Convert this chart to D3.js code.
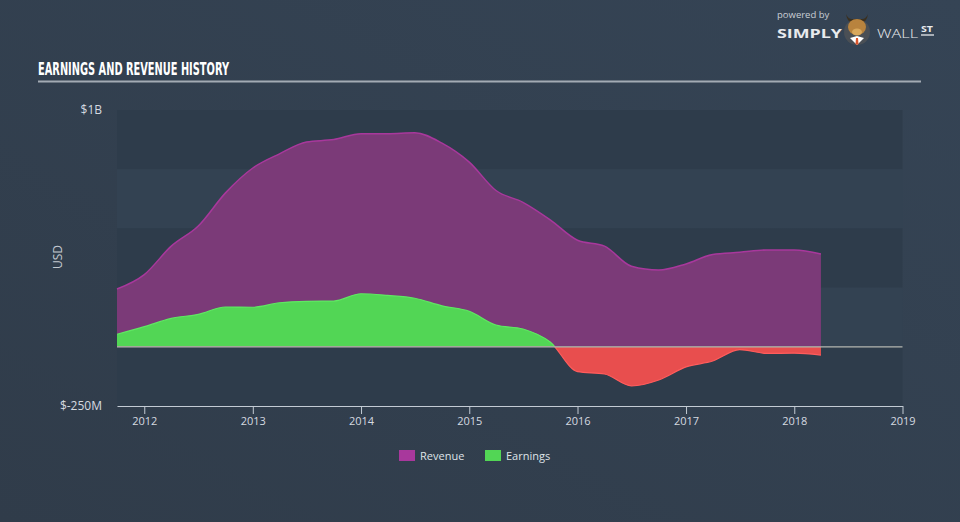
<!DOCTYPE html>
<html><head><meta charset="utf-8">
<script src="https://cdn.jsdelivr.net/npm/d3@7"></script>
<style>
html,body{margin:0;padding:0;background:#323f4e;}
svg{display:block;}
</style></head>
<body>
<svg id="chart" width="960" height="522"></svg>
<script>
// ---- data ----
const quarters = ["2011-10-01","2012-01-01","2012-04-01","2012-07-01","2012-10-01",
  "2013-01-01","2013-04-01","2013-07-01","2013-10-01","2014-01-01","2014-04-01","2014-07-01","2014-10-01",
  "2015-01-01","2015-04-01","2015-07-01","2015-10-01","2016-01-01","2016-04-01","2016-07-01","2016-10-01",
  "2017-01-01","2017-04-01","2017-07-01","2017-10-01","2018-01-01","2018-04-01"];
const revenue = [0.244,0.305,0.425,0.51,0.65,0.755,0.815,0.865,0.875,0.9,0.9,0.904,0.86,
  0.78,0.66,0.61,0.536,0.45,0.425,0.34,0.324,0.35,0.39,0.399,0.409,0.409,0.392];
const earnings = [0.053,0.085,0.12,0.137,0.168,0.167,0.186,0.192,0.193,0.224,0.217,0.205,0.173,
  0.15,0.092,0.075,0.02,-0.105,-0.115,-0.165,-0.14,-0.085,-0.06,-0.012,-0.028,-0.027,-0.035];
const yTickValues = [1, -0.25];
const yTickLabels = ["$1B", "$-250M"];
const bandEdges = [1, 0.75, 0.5, 0.25, 0, -0.25];
const seriesNames = ["Revenue", "Earnings"];
const seriesColors = ["#a8389c", "#52d655"];

// ---- layout ----
const svg = d3.select("#chart");
const X0 = 117, X1 = 902.5, Y0 = 110, Y1 = 406;
const parse = d3.timeParse("%Y-%m-%d");
const dates = quarters.map(parse);
const x = d3.scaleTime().domain([parse("2011-10-01"), parse("2019-01-01")]).range([X0, X1]);
const y = d3.scaleLinear().domain([-0.25, 1]).range([Y1, Y0]);

// background subtle gradient
const defs = svg.append("defs");
const bg = defs.append("linearGradient").attr("id","bg").attr("x1","0").attr("y1","1").attr("x2","1").attr("y2","0");
bg.append("stop").attr("offset","0").attr("stop-color","#303c4a");
bg.append("stop").attr("offset","1").attr("stop-color","#354455");
svg.append("rect").attr("width",960).attr("height",522).attr("fill","url(#bg)");

// title
svg.append("text").attr("x",38).attr("y",75)
  .attr("font-family","'Liberation Sans Narrow','DejaVu Sans Condensed',sans-serif")
  .attr("font-weight","bold").attr("font-size",17).attr("fill","#ffffff")
  .attr("textLength",191).attr("lengthAdjust","spacingAndGlyphs")
  .text("EARNINGS AND REVENUE HISTORY");
svg.append("line").attr("x1",38).attr("x2",921).attr("y1",81.5).attr("y2",81.5)
  .attr("stroke","#a3abb4").attr("stroke-width",2);

// logo
const logo = svg.append("g").attr("font-family","'Open Sans',sans-serif").attr("fill","#e8eaed");
logo.append("text").attr("x",777).attr("y",18).attr("font-size",9.5).attr("fill","#c9ced4").text("powered by");
logo.append("text").attr("x",777).attr("y",37.5).attr("font-size",13).attr("font-weight","bold")
  .attr("textLength",65).attr("lengthAdjust","spacingAndGlyphs").text("SIMPLY");
logo.append("circle").attr("cx",857).attr("cy",32).attr("r",13).attr("fill","#4a4f55");
logo.append("path").attr("d","M846,14 Q847,20 850,22 L864,22 Q867,20 868,14 Q866,19 862,19 L852,19 Q848,19 846,14Z").attr("fill","#3a3020");
logo.append("ellipse").attr("cx",857).attr("cy",27).attr("rx",9).attr("ry",8).attr("fill","#b8833e");
logo.append("ellipse").attr("cx",857).attr("cy",32).attr("rx",5).attr("ry",3.5).attr("fill","#d9a85c");
logo.append("path").attr("d","M850,38 L857,45 L864,38 L857,36Z").attr("fill","#ffffff");
logo.append("path").attr("d","M856,38 L858,38 L858.5,44 L857,45 L855.5,44Z").attr("fill","#d9542b");
logo.append("text").attr("x",877).attr("y",37.5).attr("font-size",13).attr("font-weight",300)
  .attr("textLength",41).attr("lengthAdjust","spacingAndGlyphs").text("WALL");
logo.append("text").attr("x",921).attr("y",32).attr("font-size",9).attr("font-weight","bold")
  .attr("textLength",12).attr("lengthAdjust","spacingAndGlyphs").text("ST");
logo.append("line").attr("x1",921).attr("x2",934).attr("y1",35).attr("y2",35).attr("stroke","#e8eaed").attr("stroke-width",1.3);

// bands
const bands = d3.pairs(bandEdges);
svg.append("g").selectAll("rect").data(bands).join("rect")
  .attr("x",X0).attr("width",X1 - X0)
  .attr("y",d => y(d[0])).attr("height",d => y(d[1]) - y(d[0]))
  .attr("fill",(d,i) => i % 2 === 0 ? "#2e3c4b" : "#334252");

// revenue area
const rows = dates.map((d,i) => ({date:d, rev:revenue[i], earn:earnings[i]}));
const curve = d3.curveMonotoneX;
svg.append("path").datum(rows)
  .attr("d", d3.area().curve(curve).x(d => x(d.date)).y0(y(0)).y1(d => y(d.rev)))
  .attr("fill","#7b3a78");
svg.append("path").datum(rows)
  .attr("d", d3.line().curve(curve).x(d => x(d.date)).y(d => y(d.rev)))
  .attr("fill","none").attr("stroke","#a8389c").attr("stroke-width",1.5);

// earnings area with positive/negative clip
defs.append("clipPath").attr("id","pos").append("rect")
  .attr("x",0).attr("y",0).attr("width",960).attr("height",y(0));
defs.append("clipPath").attr("id","neg").append("rect")
  .attr("x",0).attr("y",y(0)).attr("width",960).attr("height",522 - y(0));
const earnArea = d3.area().curve(curve).x(d => x(d.date)).y0(y(0)).y1(d => y(d.earn));
const earnLine = d3.line().curve(curve).x(d => x(d.date)).y(d => y(d.earn));
[["pos","#52d655","#5fe862"],["neg","#e84e4e","#ff5c5c"]].forEach(([id, fill, stroke]) => {
  const g = svg.append("g").attr("clip-path",`url(#${id})`);
  g.append("path").datum(rows).attr("d",earnArea).attr("fill",fill);
  g.append("path").datum(rows).attr("d",earnLine).attr("fill","none").attr("stroke",stroke).attr("stroke-width",1.2);
});

// zero line
svg.append("line").attr("x1",X0).attr("x2",X1).attr("y1",y(0)).attr("y2",y(0))
  .attr("stroke","#b4b6b0").attr("stroke-width",1.3);

// x axis
const xAxis = d3.axisBottom(x).ticks(d3.timeYear.every(1)).tickFormat(d3.timeFormat("%Y"))
  .tickSize(8).tickPadding(3).tickSizeOuter(0);
const gx = svg.append("g").attr("transform",`translate(0,${Y1})`).call(xAxis);
gx.select(".domain").attr("stroke","#c3cbd4").attr("stroke-width",1.2);
gx.selectAll(".tick line").attr("stroke","#c3cbd4");
gx.selectAll(".tick text").attr("fill","#d5dae0").attr("font-size",11)
  .attr("font-family","'Open Sans',sans-serif");

// y labels
svg.append("g").selectAll("text").data(yTickValues).join("text")
  .attr("x",102).attr("y",d => y(d)).attr("dy","0.35em").attr("text-anchor","end")
  .attr("font-family","'Open Sans',sans-serif").attr("font-size",12).attr("fill","#d5dae0")
  .text((d,i) => yTickLabels[i]);
svg.append("text").attr("transform","translate(62,257) rotate(-90)").attr("text-anchor","middle")
  .attr("font-family","'Open Sans',sans-serif").attr("font-size",12).attr("fill","#c3c9d0").text("USD");

// legend
const legendX = [399, 485];
const lg = svg.append("g").selectAll("g").data(seriesNames).join("g")
  .attr("transform",(d,i) => `translate(${legendX[i]},450)`);
lg.append("rect").attr("width",16).attr("height",11).attr("fill",(d,i) => seriesColors[i]);
lg.append("text").attr("x",21).attr("y",6).attr("dy","0.35em")
  .attr("font-family","'Open Sans',sans-serif").attr("font-size",11).attr("fill","#dfe3e8").text(d => d);
</script>
</body></html>
